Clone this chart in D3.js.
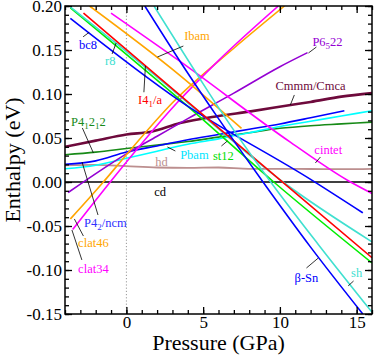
<!DOCTYPE html>
<html>
<head>
<meta charset="utf-8">
<script src="https://cdn.jsdelivr.net/npm/d3@7"></script>
<style>
  body { margin: 0; background: #fff; }
</style>
</head>
<body>
<div id="chart"></div>
<script>
const serif = "'Liberation Serif', 'DejaVu Serif', 'Times New Roman', serif";

// ticks
const pressureTicks = [0, 5, 10, 15];
const enthalpyTicks = [-0.15, -0.10, -0.05, 0, 0.05, 0.10, 0.15, 0.20];

// [pressure GPa, enthalpy eV]
const cd = [[-4, 0], [16, 0]];
const hd = [[-4, 0.019], [-2, 0.0195], [0, 0.018], [2, 0.0165], [4, 0.016], [6, 0.0165], [8, 0.015], [10, 0.015], [12, 0.0148], [14, 0.0146], [16, 0.015]];
const cmmm = [[-4, 0.040], [-2, 0.047], [0, 0.054], [1.6, 0.057], [3.5, 0.067], [6, 0.075], [8, 0.080], [10.7, 0.0875], [12, 0.091], [14, 0.097], [16, 0.101]];
const p41212 = [[-4, 0.031], [-2, 0.034], [0, 0.038], [2, 0.042], [4, 0.046], [6, 0.051], [8, 0.056], [10, 0.061], [12, 0.064], [14, 0.066], [16, 0.068]];
const p42ncm = [[-4, 0.020], [-2, 0.024], [0, 0.034], [2, 0.041], [4, 0.048], [6, 0.054], [8, 0.060], [10, 0.066], [12, 0.073], [14.2, 0.081]];
const pbam = [[-4, 0.015], [-2, 0.019], [0, 0.027], [2, 0.035], [4, 0.043], [6, 0.049], [8, 0.056], [10, 0.063], [12, 0.069], [14, 0.075], [16, 0.081]];
const p6522 = [[-3.8, -0.012], [-1.7, 0.013], [0, 0.032], [2, 0.052], [4, 0.072], [7, 0.101], [10, 0.131], [11.8, 0.147]];
const clat46 = [[-3.65, -0.042], [-1.5, 0.0], [0, 0.031], [3, 0.090], [7, 0.152], [10.3, 0.2]];
const clat34 = [[-3.5, -0.054], [-0.5, 0.012], [3.3, 0.090], [6, 0.138], [9.9, 0.2]];
const ibam = [[-2.4, 0.2], [3.5, 0.121], [7.5, 0.061]];
const cintet = [[-1.0, 0.192], [3.5, 0.137], [10.7, 0.045], [14.4, 0.002], [16, -0.013]];
const i41a = [[-2.8, 0.192], [4, 0.091], [10.1, 0.001], [16, -0.086]];
const st12 = [[-3.65, 0.198], [4, 0.086], [9.6, 0.0], [16, -0.092]];
const r8 = [[-3.65, 0.199], [-0.7, 0.158], [4, 0.090], [10.2, 0.0], [16, -0.068]];
const bc8 = [[-3.65, 0.186], [3.5, 0.092], [12, 0.003], [15.4, -0.035]];
const betaSn = [[1.2, 0.2], [3.5, 0.137], [6, 0.072], [8.9, 0.0], [12, -0.074], [15.4, -0.15]];
const sh = [[1.8, 0.2], [4.8, 0.117], [6.1, 0.082], [9.4, 0.0], [12.5, -0.071], [16, -0.148]];

const phases = [
  { data: hd, color: "#bc8f8f", w: 1.8 },
  { data: cd, color: "#000", w: 1.5 },
  { data: cmmm, color: "#6e0a3c", w: 2.6 },
  { data: p41212, color: "#178a17", w: 1.6 },
  { data: pbam, color: "#00ffff", w: 1.6 },
  { data: p42ncm, color: "#0000ff", w: 1.6 },
  { data: p6522, color: "#9400d3", w: 1.6 },
  { data: clat46, color: "#ffa500", w: 1.6 },
  { data: clat34, color: "#ff00ff", w: 1.6 },
  { data: ibam, color: "#ffa500", w: 1.6 },
  { data: cintet, color: "#ff00ff", w: 1.6 },
  { data: st12, color: "#00ee00", w: 1.6 },
  { data: r8, color: "#40e0d0", w: 1.6 },
  { data: bc8, color: "#0000ff", w: 1.6 },
  { data: i41a, color: "#ff0000", w: 1.6 },
  { data: sh, color: "#40e0d0", w: 1.6 },
  { data: betaSn, color: "#0000ff", w: 1.6 }
];

// annotations: text, colour, text centre, leader line (data units)
const labels = [
  { text: "bc8", color: "#0000ff", at: [-2.5, 0.156], from: [-2.82, 0.165], to: [-2.43, 0.170] },
  { text: "r8", color: "#40e0d0", at: [-1.05, 0.1375], from: [-0.93, 0.1455], to: [-0.67, 0.158] },
  { text: "I4{1}/a", color: "#ff0000", at: [1.54, 0.093], from: [1.14, 0.102], to: [1.24, 0.132] },
  { text: "Ibam", color: "#ffa500", at: [4.6, 0.166], from: [2.02, 0.142], to: [3.71, 0.1545] },
  { text: "P6{5}22", color: "#9400d3", at: [13.1, 0.159], from: [11.86, 0.1466], to: [12.38, 0.1534] },
  { text: "Cmmm/Cmca", color: "#6e0a3c", at: [11.99, 0.109], from: [10.68, 0.0875], to: [10.94, 0.0989] },
  { text: "P4{1}2{1}2", color: "#178a17", at: [-2.48, 0.068], from: [-2.87, 0.0614], to: [-2.15, 0.033] },
  { text: "Pbam", color: "#00e5ff", at: [4.43, 0.0307], from: [2.67, 0.0398], to: [3.19, 0.0352] },
  { text: "hd", color: "#bc8f8f", at: [2.28, 0.0227] },
  { text: "st12", color: "#00dd00", at: [6.32, 0.0295], from: [6.19, 0.0409], to: [6.58, 0.0466] },
  { text: "cintet", color: "#ff00ff", at: [13.15, 0.0364], from: [12.64, 0.0284], to: [12.31, 0.0216] },
  { text: "cd", color: "#000", at: [2.2, -0.0114] },
  { text: "P4{2}/ncm", color: "#3030ff", at: [-1.37, -0.0466], from: [-1.85, -0.0375], to: [-2.89, 0.0227] },
  { text: "clat46", color: "#ffa500", at: [-2.15, -0.0693], from: [-2.8, -0.0614], to: [-3.39, -0.042] },
  { text: "clat34", color: "#ff00ff", at: [-2.15, -0.0989], from: [-2.9, -0.0886], to: [-3.55, -0.0545] },
  { text: "β-Sn", color: "#0000ff", at: [11.73, -0.109], from: [11.73, -0.0977], to: [12.5, -0.0864] },
  { text: "sh", color: "#40e0d0", at: [15.0, -0.1034], from: [14.8, -0.1125], to: [14.45, -0.118] }
];

const width = 374,
      height = 355,
      margin = ({ top: 6, right: 2, bottom: 41, left: 65 });

let svg = d3.select("#chart")
  .append("svg")
  .attr("width", width)
  .attr("height", height)
  .attr("font-family", serif);

let x = d3.scaleLinear()
  .domain([-4, 16])
  .range([margin.left, width - margin.right]);

let y = d3.scaleLinear()
  .domain([-0.15, 0.20])
  .range([height - margin.bottom, margin.top]);

svg.append("clipPath").attr("id", "plot")
  .append("rect")
  .attr("x", x(-4)).attr("y", y(0.20))
  .attr("width", x(16) - x(-4)).attr("height", y(-0.15) - y(0.20));

// dotted line at zero pressure
svg.append("line")
  .attr("x1", x(0)).attr("x2", x(0))
  .attr("y1", y(0.20)).attr("y2", y(-0.15))
  .attr("stroke", "#999")
  .attr("stroke-width", 1)
  .attr("stroke-dasharray", "1.2,2");

let line = d3.line()
  .x(d => x(d[0]))
  .y(d => y(d[1]))
  .curve(d3.curveMonotoneX);

svg.append("g")
  .attr("clip-path", "url(#plot)")
  .selectAll("path")
  .data(phases)
  .join("path")
  .attr("d", d => line(d.data))
  .attr("fill", "none")
  .attr("stroke", d => d.color)
  .attr("stroke-width", d => d.w);

// axes, ticks pointing inward on all four sides
const xMinor = d3.range(-4, 17, 1);
const yMinor = d3.range(-15, 21, 1).map(v => v / 100);
const fmt = d => d.toFixed(2);

function styleAxis(g) {
  g.attr("font-family", serif).attr("font-size", 17);
  g.select(".domain").remove();
  g.selectAll("line").attr("stroke", "#000").attr("stroke-width", 1.3);
  g.selectAll("text").attr("fill", "#000");
}

svg.append("g")
  .attr("transform", `translate(0,${y(-0.15)})`)
  .call(d3.axisBottom(x).tickValues(xMinor).tickSize(-4).tickFormat(""))
  .call(styleAxis);
svg.append("g")
  .attr("transform", `translate(0,${y(-0.15)})`)
  .call(d3.axisBottom(x).tickValues(pressureTicks).tickSize(-7).tickPadding(2).tickFormat(d => d + ""))
  .call(styleAxis);

svg.append("g")
  .attr("transform", `translate(0,${y(0.20)})`)
  .call(d3.axisTop(x).tickValues(xMinor).tickSize(-4).tickFormat(""))
  .call(styleAxis);
svg.append("g")
  .attr("transform", `translate(0,${y(0.20)})`)
  .call(d3.axisTop(x).tickValues(pressureTicks).tickSize(-7).tickFormat(""))
  .call(styleAxis);

svg.append("g")
  .attr("transform", `translate(${x(-4)},0)`)
  .call(d3.axisLeft(y).tickValues(yMinor).tickSize(-4).tickFormat(""))
  .call(styleAxis);
svg.append("g")
  .attr("transform", `translate(${x(-4)},0)`)
  .call(d3.axisLeft(y).tickValues(enthalpyTicks).tickSize(-7).tickPadding(3).tickFormat(fmt))
  .call(styleAxis);

svg.append("g")
  .attr("transform", `translate(${x(16)},0)`)
  .call(d3.axisRight(y).tickValues(yMinor).tickSize(-4).tickFormat(""))
  .call(styleAxis);
svg.append("g")
  .attr("transform", `translate(${x(16)},0)`)
  .call(d3.axisRight(y).tickValues(enthalpyTicks).tickSize(-7).tickFormat(""))
  .call(styleAxis);

// frame
svg.append("rect")
  .attr("x", x(-4)).attr("y", y(0.20))
  .attr("width", x(16) - x(-4)).attr("height", y(-0.15) - y(0.20))
  .attr("fill", "none")
  .attr("stroke", "#000")
  .attr("stroke-width", 1.5);

// leader lines
svg.append("g")
  .selectAll("line")
  .data(labels.filter(d => d.from))
  .join("line")
  .attr("x1", d => x(d.from[0])).attr("y1", d => y(d.from[1]))
  .attr("x2", d => x(d.to[0])).attr("y2", d => y(d.to[1]))
  .attr("stroke", "#000")
  .attr("stroke-width", 0.8);

// labels with subscripts written as {n}
let lab = svg.append("g")
  .attr("font-family", serif)
  .attr("font-size", 12.5)
  .selectAll("text")
  .data(labels)
  .join("text")
  .attr("x", d => x(d.at[0]))
  .attr("y", d => y(d.at[1]) + 4)
  .attr("text-anchor", "middle")
  .attr("fill", d => d.color);

lab.each(function (d) {
  let t = d3.select(this);
  let parts = d.text.split(/(\{[^}]*\})/).filter(s => s.length);
  let shifted = false;
  parts.forEach(p => {
    if (p.startsWith("{")) {
      t.append("tspan").attr("dy", 3).attr("font-size", 9).text(p.slice(1, -1));
      shifted = true;
    } else {
      let s = t.append("tspan").text(p);
      if (shifted) { s.attr("dy", -3); shifted = false; }
    }
  });
});

// axis titles
svg.append("text")
  .attr("text-anchor", "middle")
  .attr("transform", `translate(19.5,${(y(0.20) + y(-0.15)) / 2}) rotate(-90)`)
  .attr("font-size", 22)
  .text("Enthalpy (eV)");

svg.append("text")
  .attr("text-anchor", "middle")
  .attr("x", (x(-4) + x(16)) / 2)
  .attr("y", 350)
  .attr("font-size", 22)
  .text("Pressure (GPa)");
</script>
</body>
</html>
